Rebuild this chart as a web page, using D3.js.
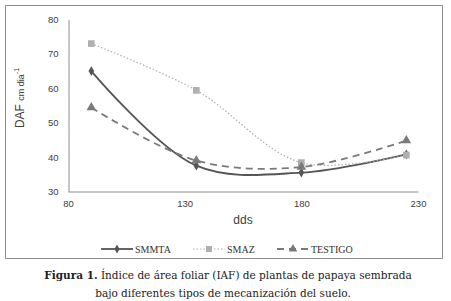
<!DOCTYPE html>
<html><head><meta charset="utf-8">
<script src="https://cdn.jsdelivr.net/npm/d3@7"></script>
<style>body{margin:0;background:#fff}svg{display:block}</style>
</head><body>
<script>
const days = [90, 135, 180, 225];
const smmta = [65, 37.5, 35.5, 40.8];
const smaz = [73, 59.4, 38.4, 40.6];
const testigo = [54.4, 39, 37.1, 44.8];
const xTicks = [80, 130, 180, 230];
const yTicks = [30, 40, 50, 60, 70, 80];
const seriesNames = ["SMMTA", "SMAZ", "TESTIGO"];

const W = 451, H = 301;
const svg = d3.select("body").append("svg").attr("width", W).attr("height", H);

svg.append("rect").attr("x", 5.5).attr("y", 5.5).attr("width", 437).attr("height", 253)
  .attr("fill", "#fff").attr("stroke", "#8c8c8c").attr("stroke-width", 1);

const x = d3.scaleLinear().domain([80, 230]).range([68, 418]);
const y = d3.scaleLinear().domain([30, 80]).range([191.5, 19.5]);

const gx = svg.append("g").attr("transform", "translate(0,191.5)")
  .call(d3.axisBottom(x).tickValues(xTicks).tickSize(0).tickPadding(9));
const gy = svg.append("g").attr("transform", "translate(68.5,0)")
  .call(d3.axisLeft(y).tickValues(yTicks).tickSize(0).tickPadding(10));
[gx, gy].forEach(g => {
  g.select(".domain").attr("stroke", "#8c8c8c");
  g.selectAll("text").attr("font-family", "Liberation Sans, Arial, sans-serif")
    .attr("font-size", 9.5).attr("fill", "#404040");
});

const styles = [
  {data: smmta, color: "#555", dash: null, width: 1.8, marker: "diamond"},
  {data: smaz, color: "#b0b0b0", dash: "1.5,2", width: 1.2, marker: "square"},
  {data: testigo, color: "#7a7a7a", dash: "7,5", width: 1.8, marker: "triangle"}
];
const symType = {diamond: d3.symbolDiamond, square: d3.symbolSquare, triangle: d3.symbolTriangle};
const symSize = {diamond: 28, square: 45, triangle: 40};

const line = d3.line().x(d => x(d[0])).y(d => y(d[1])).curve(d3.curveCatmullRom.alpha(0.5));

styles.forEach(s => {
  const pts = days.map((d, i) => [d, s.data[i]]);
  svg.append("path").datum(pts).attr("d", line).attr("fill", "none")
    .attr("stroke", s.color).attr("stroke-width", s.width)
    .attr("stroke-dasharray", s.dash);
  svg.selectAll(null).data(pts).enter().append("path")
    .attr("transform", d => `translate(${x(d[0])},${y(d[1])})`)
    .attr("d", d3.symbol().type(symType[s.marker]).size(symSize[s.marker]))
    .attr("fill", s.color);
});

// axis titles
const yl = svg.append("text").attr("transform", "translate(24,98) rotate(-90)")
  .attr("text-anchor", "middle").attr("font-family", "Liberation Sans, Arial, sans-serif")
  .attr("fill", "#404040");
yl.append("tspan").attr("font-size", 12).text("DAF ");
yl.append("tspan").attr("font-size", 9).text("cm dia");
yl.append("tspan").attr("font-size", 7).attr("dy", -5).text("-1");

svg.append("text").attr("x", 243).attr("y", 224).attr("text-anchor", "middle")
  .attr("font-family", "Liberation Sans, Arial, sans-serif").attr("font-size", 12)
  .attr("fill", "#404040").text("dds");

// legend
const legX = [101, 193, 277];
styles.forEach((s, i) => {
  const g = svg.append("g").attr("transform", `translate(${legX[i]},249)`);
  g.append("line").attr("x1", 0).attr("x2", 32).attr("y1", 0).attr("y2", 0)
    .attr("stroke", s.color).attr("stroke-width", s.width).attr("stroke-dasharray", s.dash);
  g.append("path").attr("transform", "translate(16,0)")
    .attr("d", d3.symbol().type(symType[s.marker]).size(symSize[s.marker] * 0.8)).attr("fill", s.color);
  g.append("text").attr("x", 34).attr("y", 3.5).attr("font-family", "Liberation Serif, Times New Roman, serif")
    .attr("font-size", 10).attr("fill", "#333").text(seriesNames[i]);
});

// caption
const cap = svg.append("text").attr("x", 228).attr("y", 279).attr("text-anchor", "middle")
  .attr("font-family", "DejaVu Serif, serif").attr("font-size", 10.5).attr("fill", "#222");
cap.append("tspan").attr("font-weight", "bold").text("Figura 1.");
cap.append("tspan").text(" Índice de área foliar (IAF) de plantas de papaya sembrada");
svg.append("text").attr("x", 223).attr("y", 297).attr("text-anchor", "middle")
  .attr("font-family", "DejaVu Serif, serif").attr("font-size", 10.5).attr("fill", "#222")
  .text("bajo diferentes tipos de mecanización del suelo.");
</script>
</body></html>
